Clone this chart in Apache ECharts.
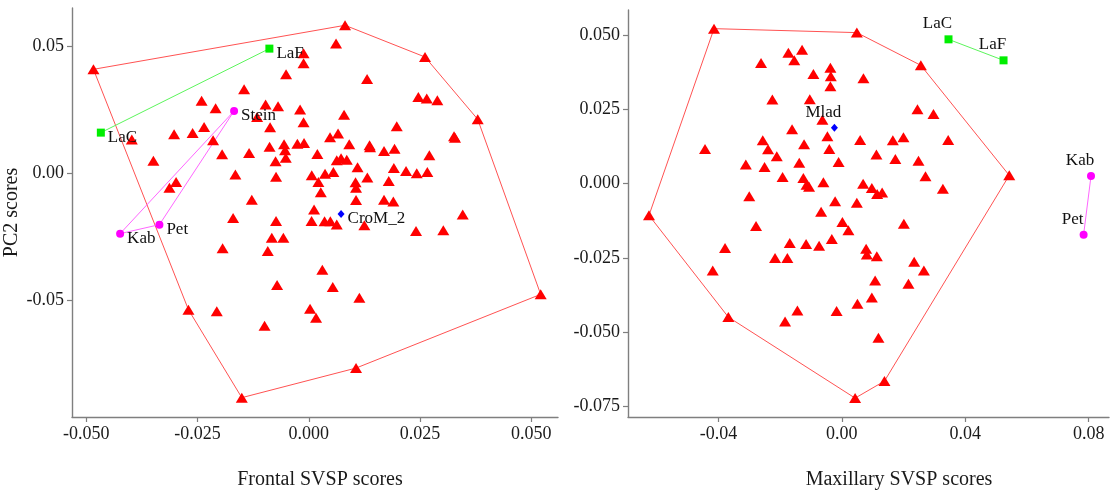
<!DOCTYPE html>
<html>
<head>
<meta charset="utf-8">
<script src="https://cdn.jsdelivr.net/npm/echarts@6/dist/echarts.min.js"></script>
<style>
  html, body { margin: 0; padding: 0; background: #fff; }
  #chart { width: 1119px; height: 492px; }
</style>
</head>
<body>
<div id="chart"></div>
<script>
// ---- Frontal panel (left) ----
const frontalHull = [
  [-0.04838, 0.04106], [0.00815, 0.05839], [0.02612, 0.04591], [0.03796, 0.02138],
  [0.05211, -0.04752], [0.01062, -0.07654], [-0.01505, -0.08819], [-0.02704, -0.05354]
];
const frontalInner = [
  [-0.00117, 0.04736], [-0.00117, 0.04343], [-0.00510, 0.03909], [-0.01453, 0.03319],
  [-0.02408, 0.02866], [-0.02093, 0.02571], [-0.00970, 0.02717], [-0.00690, 0.02650],
  [-0.00195, 0.02520], [-0.01161, 0.02228], [-0.00117, 0.02020], [-0.00869, 0.01823],
  [-0.02352, 0.01835], [-0.02610, 0.01598], [-0.03026, 0.01547], [-0.03976, 0.01339],
  [-0.02150, 0.01311], [-0.00881, 0.01063], [-0.00555, 0.01154], [-0.00532, 0.00917],
  [-0.00517, 0.00630], [-0.00256, 0.01181], [-0.00106, 0.01205], [-0.01341, 0.00811],
  [-0.01947, 0.00760], [-0.03491, 0.00504], [-0.00746, 0.00484], [-0.00735, -0.00126],
  [-0.01649, -0.00039], [-0.02981, -0.00331], [-0.03131, -0.00559], [-0.01280, -0.01024],
  [-0.01700, -0.01748], [-0.00735, -0.01866], [-0.00831, -0.02520], [-0.00571, -0.02520],
  [-0.01936, -0.02941], [-0.00921, -0.03047], [-0.00712, -0.04386], [-0.02067, -0.05413],
  [-0.00993, -0.05992], [0.00613, 0.05118], [0.01310, 0.03724], [0.02462, 0.03016],
  [0.02651, 0.02953], [0.02889, 0.02886], [0.00793, 0.02315], [0.01977, 0.01862],
  [0.03264, 0.01469], [0.03286, 0.01409], [0.00478, 0.01429], [0.00658, 0.01575],
  [0.00910, 0.01154], [0.01366, 0.01114], [0.01377, 0.01035], [0.01691, 0.00890],
  [0.01927, 0.00984], [0.02709, 0.00720], [0.00193, 0.00772], [0.00629, 0.00531],
  [0.00726, 0.00610], [0.00854, 0.00551], [0.01096, 0.00248], [0.01912, 0.00220],
  [0.02186, 0.00102], [0.02426, 0.00012], [0.02664, 0.00063], [0.00067, -0.00067],
  [0.00366, 0.00000], [0.00553, 0.00063], [0.00216, -0.00331], [0.01051, -0.00343],
  [0.01062, -0.00559], [0.01316, -0.00157], [0.01797, -0.00291], [0.00270, -0.00736],
  [0.01062, -0.01039], [0.01691, -0.01024], [0.01900, -0.01098], [0.03459, -0.01610],
  [0.00119, -0.01413], [0.00063, -0.01866], [0.00355, -0.01878], [0.00485, -0.01878],
  [0.00629, -0.02004], [0.01249, -0.02035], [0.02410, -0.02260], [0.03023, -0.02232],
  [0.00305, -0.03780], [0.00539, -0.04465], [0.01137, -0.04882], [0.00029, -0.05315],
  [0.00164, -0.05669]
];
const frontalGreen = [['LaC', -0.04672, 0.01614], ['LaF', -0.00885, 0.04921]];
const frontalMagenta = [['Stein', -0.01678, 0.02465], ['Kab', -0.04239, -0.02362], ['Pet', -0.03356, -0.02008]];
const frontalBlue = [['CroM_2', 0.00726, -0.01590]];
const frontalXTicks = [-0.05, -0.025, 0, 0.025, 0.05];
const frontalYTicks = [-0.05, 0, 0.05];

// ---- Maxillary panel (right) ----
const maxHull = [
  [-0.04142, 0.05222], [0.00487, 0.05088], [0.02562, 0.03986], [0.05427, 0.00280],
  [0.01382, -0.06651], [0.00431, -0.07224], [-0.03678, -0.04495], [-0.06250, -0.01068]
];
const maxInner = [
  [-0.01732, 0.04407], [-0.01288, 0.04508], [-0.01541, 0.04154], [-0.02618, 0.04063],
  [-0.00370, 0.03902], [-0.00357, 0.03615], [-0.00921, 0.03693], [0.00701, 0.03548],
  [-0.00370, 0.03285], [-0.02251, 0.02834], [-0.01038, 0.02840], [-0.00629, 0.02156],
  [-0.01612, 0.01830], [-0.00467, 0.01600], [-0.02562, 0.01459], [-0.02391, 0.01156],
  [-0.01223, 0.01324], [-0.00405, 0.01166], [-0.04434, 0.01166], [-0.02108, 0.00927],
  [-0.03111, 0.00644], [-0.02504, 0.00559], [-0.01379, 0.00701], [-0.00104, 0.00728],
  [-0.01920, 0.00222], [-0.01246, 0.00195], [-0.01142, -0.00040], [-0.01061, -0.00108],
  [-0.00597, 0.00044], [-0.03000, -0.00421], [-0.00217, -0.00596], [-0.00671, -0.00943],
  [0.00487, -0.00640], [0.00691, -0.00007], [0.00973, -0.00148], [0.01145, -0.00344],
  [0.01307, -0.00300], [0.00594, 0.01469], [0.01122, 0.00980], [0.01654, 0.01459],
  [0.01998, 0.01560], [0.01735, 0.00829], [0.02452, 0.02510], [0.02971, 0.02345],
  [0.02485, 0.00775], [0.02712, 0.00253], [0.03448, 0.01469], [0.03276, -0.00168],
  [-0.02780, -0.01429], [0.00019, -0.01294], [0.00214, -0.01573], [0.02011, -0.01348],
  [-0.03785, -0.02163], [-0.04184, -0.02921], [-0.01687, -0.02001], [-0.01158, -0.02035],
  [-0.00736, -0.02089], [-0.00324, -0.01867], [-0.02164, -0.02500], [-0.01765, -0.02500],
  [0.00788, -0.02190], [0.00811, -0.02382], [0.01135, -0.02443], [0.02345, -0.02628],
  [0.02660, -0.02921], [0.01080, -0.03258], [0.02160, -0.03369], [0.00973, -0.03831],
  [0.00506, -0.04043], [-0.01440, -0.04269], [-0.00169, -0.04286], [-0.01839, -0.04640],
  [0.01187, -0.05189]
];
const maxGreen = [['LaC', 0.03458, 0.04862], ['LaF', 0.05242, 0.04154]];
const maxMagenta = [['Kab', 0.08077, 0.00256], ['Pet', 0.07837, -0.01718]];
const maxBlue = [['Mlad', -0.00240, 0.01887]];
const maxXTicks = [-0.04, 0, 0.04, 0.08];
const maxYTicks = [-0.075, -0.05, -0.025, 0, 0.025, 0.05];

const serif = 'Liberation Serif';
const axisGray = '#7f7f7f';

// build a closed path from a list of points
const closed = (pts) => pts.concat([pts[0]]);
const named = (arr) => arr.map(d => ({ name: d[0], value: [d[1], d[2]] }));
const coords = (arr) => arr.map(d => [d[1], d[2]]);

function valueAxis(idx, min, max, ticks, digits, extra) {
  return Object.assign({
    type: 'value',
    gridIndex: idx,
    min: min,
    max: max,
    splitLine: { show: false },
    axisLine: { show: true, onZero: false, lineStyle: { color: axisGray, width: 1.4 } },
    axisTick: { show: true, length: 5, customValues: ticks, lineStyle: { color: axisGray, width: 1.2 } },
    axisLabel: {
      customValues: ticks,
      margin: 8,
      color: '#1a1a1a',
      fontFamily: serif,
      fontSize: 18,
      formatter: (v) => Number(v).toFixed(digits)
    }
  }, extra || {});
}

function lineSeries(x, y, data, color) {
  return {
    type: 'line', xAxisIndex: x, yAxisIndex: y, data: data,
    symbol: 'none', lineStyle: { color: color, width: 1 }, silent: true, z: 2
  };
}

function pointSeries(x, y, data, symbol, size, color, label) {
  return {
    type: 'scatter', xAxisIndex: x, yAxisIndex: y, data: data,
    symbol: symbol, symbolSize: size, itemStyle: { color: color, opacity: 1 }, z: 3,
    label: label ? Object.assign({
      show: true, formatter: '{b}', color: '#111', fontFamily: serif, fontSize: 17
    }, label) : { show: false }
  };
}

const leftLabel = { position: 'right', distance: 3, offset: [0, 5] };
const rightLabel = { position: 'top', distance: 3, offset: [-11, 0] };
const titleStyle = { fontFamily: serif, fontSize: 20, fontWeight: 'normal', color: '#1a1a1a' };

const chart = echarts.init(document.getElementById('chart'));

const option = {
  animation: false,
  backgroundColor: '#fff',
  title: [
    { text: 'Frontal SVSP scores', left: 315, top: 465, textAlign: 'center', textStyle: titleStyle },
    { text: 'Maxillary SVSP scores', left: 894, top: 465, textAlign: 'center', textStyle: titleStyle }
  ],
  grid: [
    { left: 72, top: 8, width: 486, height: 409 },
    { left: 628, top: 10, width: 481, height: 407 }
  ],
  xAxis: [
    valueAxis(0, -0.0532, 0.0560, frontalXTicks, 3),
    valueAxis(1, -0.0693, 0.0866, maxXTicks, 2)
  ],
  yAxis: [
    valueAxis(0, -0.0958, 0.0652, frontalYTicks, 2, {
      name: 'PC2 scores', nameLocation: 'middle', nameGap: 50,
      nameTextStyle: titleStyle
    }),
    valueAxis(1, -0.0786, 0.0585, maxYTicks, 3)
  ],
  series: [
    // left panel
    lineSeries(0, 0, closed(frontalHull), '#ff5252'),
    lineSeries(0, 0, coords(frontalGreen), '#5cf55c'),
    lineSeries(0, 0, closed(coords(frontalMagenta)), '#ff66ff'),
    pointSeries(0, 0, frontalHull.concat(frontalInner), 'triangle', [12, 10], '#ff0000'),
    pointSeries(0, 0, named(frontalGreen), 'rect', 8, '#00ee00', leftLabel),
    pointSeries(0, 0, named(frontalMagenta), 'circle', 8, '#ff00ff', leftLabel),
    pointSeries(0, 0, named(frontalBlue), 'diamond', [7, 8], '#0000ff', leftLabel),
    // right panel
    lineSeries(1, 1, closed(maxHull), '#ff5252'),
    lineSeries(1, 1, coords(maxGreen), '#5cf55c'),
    lineSeries(1, 1, coords(maxMagenta), '#ff66ff'),
    pointSeries(1, 1, maxHull.concat(maxInner), 'triangle', [12, 10], '#ff0000'),
    pointSeries(1, 1, named(maxGreen), 'rect', 8, '#00ee00', rightLabel),
    pointSeries(1, 1, named(maxMagenta), 'circle', 8, '#ff00ff', rightLabel),
    pointSeries(1, 1, named(maxBlue), 'diamond', [7, 8], '#0000ff', rightLabel)
  ]
};

chart.setOption(option);
</script>
</body>
</html>
